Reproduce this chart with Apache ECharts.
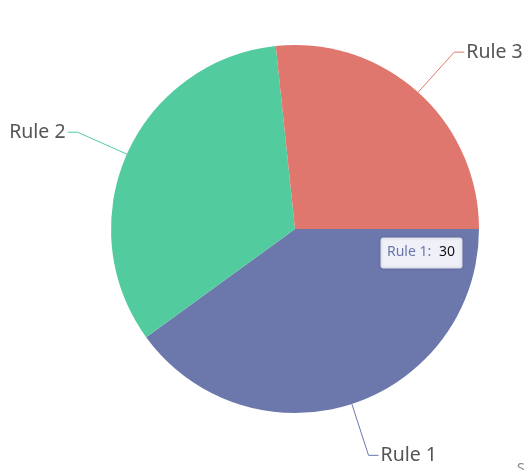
<!DOCTYPE html>
<html>
<head>
<meta charset="utf-8">
<script src="https://cdn.jsdelivr.net/npm/echarts@6/dist/echarts.min.js"></script>
<style>html,body{margin:0;padding:0;background:#fff}#c{width:529px;height:470px}</style>
</head>
<body>
<div id="c"></div>
<script>
var categories = ['Rule 1', 'Rule 2', 'Rule 3'];
var values = [30, 25, 20];
var colors = ['#6c78ac', '#52cc9e', '#e0776e'];

var chart = echarts.init(document.getElementById('c'), null, {renderer: 'canvas'});
var data = categories.map(function (c, i) {
  return {name: c, value: values[i], itemStyle: {color: colors[i]}};
});
chart.setOption({
  animation: false,
  series: [{
    type: 'pie',
    center: [295, 229],
    radius: 184,
    startAngle: 0,
    clockwise: true,
    data: data,
    label: {
      show: true,
      formatter: '{b}',
      color: '#555',
      fontSize: 19.5,
      fontFamily: 'Noto Sans',
      overflow: 'none',
      distanceToLabelLine: 2
    },
    labelLine: {length: 54, length2: 10, lineStyle: {width: 1}},
    labelLayout: {hideOverlap: false},
    itemStyle: {borderWidth: 0},
    emphasis: {disabled: true}
  }],
  graphic: {
    elements: [
      {
        type: 'rect', x: 381, y: 238, z: 100,
        shape: {x: 0, y: 0, width: 81, height: 30, r: 2},
        style: {fill: '#f0f1f8', stroke: '#dcdfee', lineWidth: 1, shadowBlur: 3, shadowColor: 'rgba(0,0,0,0.15)'}
      },
      {
        type: 'text', x: 387, y: 245, z: 101,
        style: {text: 'Rule 1:', fill: '#6a76aa', font: '14px "Noto Sans"'}
      },
      {
        type: 'text', x: 439, y: 245, z: 101,
        style: {text: '30', fill: '#111', font: '14px "Noto Sans"'}
      },
      {
        type: 'text', x: 517, y: 462, z: 100,
        style: {text: 'S', fill: '#888', font: '14px "Noto Sans"'}
      }
    ]
  }
});
</script>
</body>
</html>
